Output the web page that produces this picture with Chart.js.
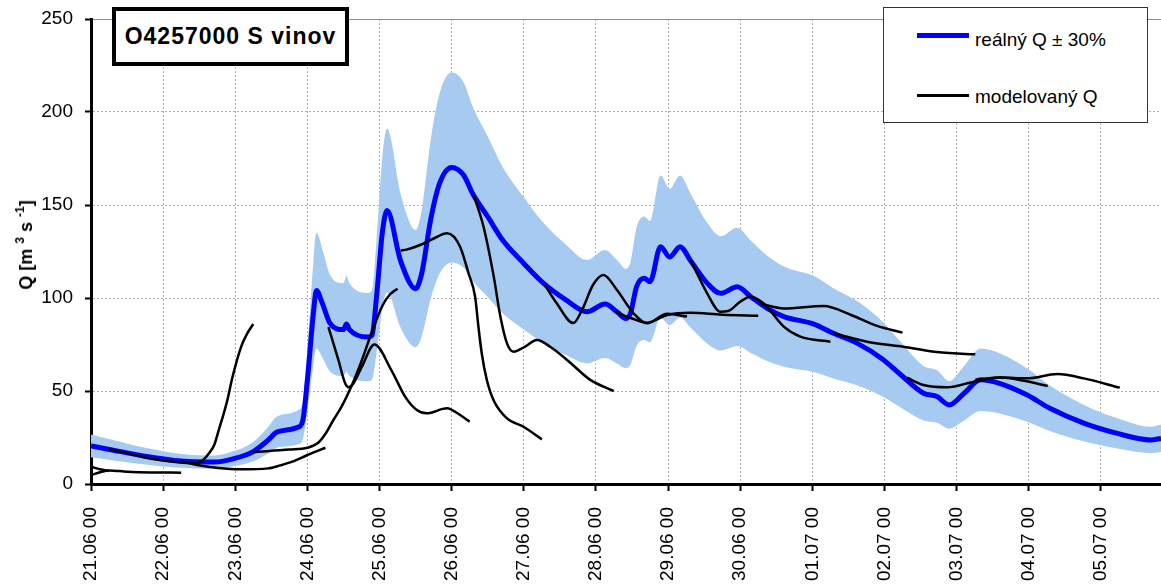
<!DOCTYPE html>
<html>
<head>
<meta charset="utf-8">
<script src="https://cdn.jsdelivr.net/npm/chart.js@4.4.1/dist/chart.umd.min.js"></script>
<style>
  body { margin: 0; background: #fff; }
  #wrap { position: relative; width: 1161px; height: 584px; font-family: 'Liberation Sans', Arial, sans-serif; color: #000; }
  #station {
    position: absolute; left: 112px; top: 7px; width: 237px; height: 59px;
    box-sizing: border-box; border: 4px solid #000; background: #fff;
    font-weight: bold; font-size: 23px; letter-spacing: 1px;
    display: flex; align-items: center; justify-content: center;
  }
  #legend {
    position: absolute; left: 883px; top: 7px; width: 265px; height: 116px;
    box-sizing: border-box; border: 1px solid #333; background: #fff; font-size: 19px;
  }
  #legend .key { position: absolute; left: 33px; width: 52px; }
  #legend .txt { position: absolute; left: 91px; line-height: 19px; white-space: nowrap; }
  #ytitle {
    position: absolute; left: 25px; top: 245px; white-space: nowrap;
    transform: translate(-50%, -50%) rotate(-90deg);
    font-weight: bold; font-size: 18px;
  }
  #ytitle sup { font-size: 12px; vertical-align: 8px; }
</style>
</head>
<body>
<div id="wrap">
  <canvas id="chart" width="1161" height="584"></canvas>
  <div id="station">O4257000 S vinov</div>
  <div id="legend">
    <div class="key" style="top:25px;height:5px;background:#0000ff"></div>
    <div class="txt" style="top:22px">reálný Q ± 30%</div>
    <div class="key" style="top:86px;height:3px;background:#000"></div>
    <div class="txt" style="top:79px">modelovaný Q</div>
  </div>
  <div id="ytitle">Q [m <sup>3</sup> s <sup>-1</sup>]</div>
</div>
<script>
// x axis runs in hours from 21.06 00:00
const tickHours = [0, 24, 48, 72, 96, 120, 144, 168, 192, 216, 240, 264, 288, 312, 336];
const tickLabels = ['21.06 00', '22.06 00', '23.06 00', '24.06 00', '25.06 00', '26.06 00', '27.06 00',
  '28.06 00', '29.06 00', '30.06 00', '01.07 00', '02.07 00', '03.07 00', '04.07 00', '05.07 00'];

// observed discharge
const realHours = [0, 7, 18, 30, 41, 47, 54, 59, 62, 69, 70.5, 72, 74, 75, 77, 79.5, 84, 85, 86, 92,
  93.5, 95, 97, 98.5, 103, 108, 110, 113, 116, 120, 124, 127, 132, 137, 144, 150.5, 158, 165, 171, 175,
  178, 179.5, 181.5, 184, 186, 189.5, 192.5, 196, 199.5, 205, 209.5, 215, 219.5, 225, 230.5, 240.5, 247,
  255, 263.5, 269.5, 277, 281.5, 285.5, 290.5, 296, 302.5, 311.5, 319, 330.5, 341.5, 352.5, 356];
const realQ = [20.5, 18.3, 15, 12.4, 11.8, 13.4, 17.4, 23.7, 28, 30.6, 34.4, 56, 92, 104, 97, 86.5, 83, 86, 83, 79,
  80, 100.7, 136, 147, 120, 105, 113, 142, 161.7, 170.2, 166, 156, 143.7, 131, 118.6, 108, 99, 92.6, 96.8, 92.6,
  89, 91.8, 106, 110.6, 108.8, 127.6, 122, 127.6, 120, 108, 102.5, 106, 100.7, 94.4, 90, 86, 81,
  75.6, 67, 58.6, 48.8, 47, 42.5, 48.8, 56, 54, 47.8, 40.7, 32.6, 27.2, 23.7, 24.5];
const bandPct = 30;

// model runs, one every day at 06:00, 48 h each
const forecastHours = [
  [0, 3, 6],
  [0, 3, 6, 12, 20, 30],
  [6, 14, 20, 28, 34.5, 37, 39, 41, 42.5, 44, 45.5, 47, 50, 52, 54],
  [30, 34.5, 39, 50, 59, 63, 67, 72, 78],
  [54, 56, 66, 72, 75.5, 78, 80.5, 83.5, 86.5, 90, 93.5, 97, 99.5, 102],
  [79, 82.3, 84.6, 85.7, 87.3, 90.1, 94.3, 100, 104.5, 108.4, 111.7, 118.4, 122.8, 126],
  [103, 105, 109.5, 114, 118.5, 122.8, 125.6, 127.8, 128.9, 130, 131.7, 133.9, 138.4, 143.9, 150],
  [127.3, 130.6, 134, 136.2, 138.4, 140.6, 144, 148.4, 153, 158.4, 166.1, 173.9],
  [151, 155, 160.5, 163.5, 167, 170.5, 175, 180.5, 185, 191.7, 198.3],
  [174.4, 180, 185, 191.7, 199.4, 210, 222],
  [199.4, 202, 205, 209.4, 212, 216, 219.4, 223.8, 230.5, 236, 246],
  [222.5, 230.5, 243.8, 252.7, 261.5, 270],
  [247.1, 258.2, 269.4, 280.5, 294.2],
  [271.5, 277, 284.9, 293.8, 302.6, 310.4, 318.3],
  [294.2, 302.6, 311.5, 321.5, 330.3, 342.3]
];
const forecastQ = [
  [9.3, 7.9, 7.0],
  [4.8, 6.3, 7.3, 6.6, 6.2, 6.1],
  [18.8, 15.8, 13.6, 11.8, 11.1, 12.5, 16, 21, 29, 37, 46, 57, 74, 81, 86],
  [12.2, 10.5, 9.3, 7.9, 8.4, 10, 12, 15.6, 19.5],
  [17.2, 17.4, 18.5, 19.5, 22, 27, 34, 42, 52, 66, 82, 96, 102, 105],
  [84.4, 66.7, 54, 52, 54, 63, 75, 61, 47, 39.8, 38, 40.7, 37.1, 33.5],
  [125.5, 126, 128.5, 132, 134.8, 127.6, 113.3, 100.7, 84.6, 70.3, 55.9, 45.2, 35.3, 30.8, 24],
  [155.4, 138.3, 111.5, 90, 75.6, 71.1, 73.5, 77.4, 73.5, 66.7, 56, 50],
  [107, 97, 86.5, 94, 107, 112.4, 104.3, 91.8, 86.4, 91.5, 90],
  [92.6, 89, 86.7, 90.9, 92.1, 91, 90.5],
  [120.4, 112, 102.5, 92.6, 93, 98, 100.7, 97, 84.6, 79.2, 76.5],
  [97, 94.4, 95.7, 91, 85, 81.4],
  [81, 76.5, 74, 71.1, 69.7],
  [57.2, 53.2, 52, 55, 57.2, 55.5, 52.7],
  [56, 57.2, 56.8, 59.1, 56.8, 51.8]
];

const toPoints = (xs, ys) => xs.map((h, i) => ({ x: h, y: ys[i] }));
const family = "'Liberation Sans', Arial, sans-serif";

const forecastSets = forecastHours.map((hrs, i) => ({
  label: 'modelovaný Q',
  data: toPoints(hrs, forecastQ[i]),
  borderColor: '#000',
  borderWidth: 2.5,
  pointRadius: 0,
  cubicInterpolationMode: 'monotone',
  fill: false,
  order: 0
}));

const upper = realQ.map(q => q * (1 + bandPct / 100));
const lower = realQ.map(q => q * (1 - bandPct / 100));

new Chart(document.getElementById('chart'), {
  type: 'line',
  data: {
    datasets: [
      ...forecastSets,
      {
        label: 'reálný Q',
        data: toPoints(realHours, realQ),
        borderColor: '#0000ff',
        borderWidth: 5,
        pointRadius: 0,
        cubicInterpolationMode: 'monotone',
        fill: false,
        order: 1
      },
      {
        label: 'upper',
        data: toPoints(realHours, upper),
        borderWidth: 0,
        pointRadius: 0,
        cubicInterpolationMode: 'monotone',
        fill: false,
        order: 2
      },
      {
        label: 'lower',
        data: toPoints(realHours, lower),
        borderWidth: 0,
        pointRadius: 0,
        cubicInterpolationMode: 'monotone',
        backgroundColor: 'rgb(166, 202, 240)',
        fill: '-1',
        order: 2
      }
    ]
  },
  options: {
    responsive: false,
    animation: false,
    layout: { padding: { top: 19, right: 0, bottom: 0, left: 0 } },
    plugins: {
      legend: { display: false },
      tooltip: { enabled: false }
    },
    scales: {
      x: {
        type: 'linear',
        min: 0,
        max: 356,
        afterBuildTicks: s => { s.ticks = tickHours.map(v => ({ value: v })); },
        afterFit: s => { s.height = 100; },
        ticks: {
          autoSkip: false,
          minRotation: 90,
          maxRotation: 90,
          padding: 16,
          color: '#000',
          font: { family, size: 19 },
          callback: v => tickLabels[tickHours.indexOf(v)]
        },
        grid: { color: '#b0b0b0', lineWidth: 1, tickColor: '#000', tickLength: 7, tickWidth: 2 },
        border: { color: '#000', width: 3, dash: [2, 2] }
      },
      y: {
        min: 0,
        max: 250,
        afterFit: s => { s.width = 91; },
        // small lineHeight keeps the top label from pushing the plot area down
        ticks: { stepSize: 50, padding: 12, color: '#000', font: { family, size: 19, lineHeight: 0.6 } },
        grid: {
          color: ctx => ctx.tick && ctx.tick.value === 250 ? '#8c8c8c' : '#b0b0b0',
          lineWidth: 1,
          tickColor: '#000',
          tickLength: 6,
          tickWidth: 2
        },
        border: {
          color: '#000',
          width: 3,
          dash: ctx => ctx.tick && ctx.tick.value === 250 ? [] : [2, 2]
        }
      }
    }
  }
});
</script>
</body>
</html>
